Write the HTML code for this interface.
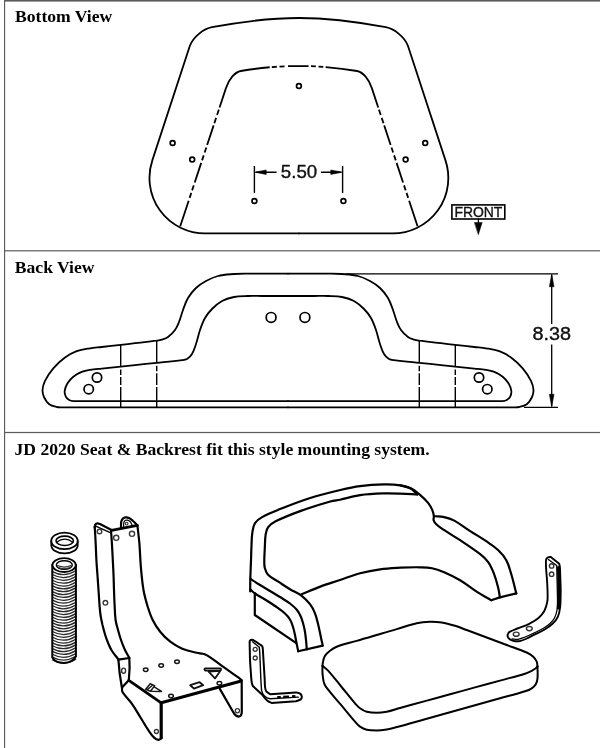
<!DOCTYPE html>
<html><head><meta charset="utf-8"><title>Seat diagram</title>
<style>
html,body{margin:0;padding:0;background:#fff;}
body{width:600px;height:748px;overflow:hidden;position:relative;font-family:"Liberation Serif",serif;}
svg{position:absolute;left:0;top:0;display:block;will-change:transform;}
.lbl{font-family:"Liberation Serif",serif;font-weight:bold;font-size:17.6px;fill:#000;stroke:none;}
.dim{font-family:"Liberation Sans",sans-serif;font-size:18px;fill:#111;stroke:#111;stroke-width:0.35;}
</style></head><body>
<svg width="600" height="748" viewBox="0 0 600 748" fill="none" stroke="#000" stroke-linecap="round" stroke-linejoin="round">
<g fill="#5c5c5c" stroke="none">
<rect x="4" y="0" width="1.15" height="748"/>
<rect x="4" y="0" width="596" height="1.6"/>
<rect x="4" y="250.2" width="596" height="1.2"/>
<rect x="4" y="431.9" width="596" height="1.2"/>
</g>
<text class="lbl" x="15" y="22.3">Bottom View</text>
<text class="lbl" x="14.8" y="272.5">Back View</text>
<text class="lbl" x="14.5" y="454.7">JD 2020 Seat &amp; Backrest fit this style mounting system.</text>
<path d="M298.9 18 Q261.0 18 212.0 27.2 C203.5 28.8 193.0 37.2 189.8 46 L152.4 160.1 A55.5 55.5 0 0 0 205.0 233.4 L298.9 233.4" stroke-width="1.8" />
<path d="M226.04 87.90L219.56 107.50M218.86 109.60L217.07 115.00M216.11 117.90L214.33 123.30M213.63 125.40L207.14 145.00M206.32 147.50L204.66 152.50M203.70 155.40L202.05 160.40M201.22 162.90L194.73 182.50M193.77 185.40L192.12 190.40M191.29 192.90L189.63 197.90M188.68 200.80L180.23 226.30" stroke-width="1.8" stroke-linecap="butt"/>
<path d="M226.01 88 C229.06 78.8 235.00 72.0 240.80 71.0 Q255.00 68.57 269.70 67.27" stroke-width="1.8" stroke-linecap="butt"/>
<circle cx="172.6" cy="143.0" r="2.4" stroke-width="1.7" />
<circle cx="192.2" cy="159.5" r="2.4" stroke-width="1.7" />
<circle cx="254.4" cy="201.0" r="2.4" stroke-width="1.7" />
<path d="M298.9 18 Q336.8 18 385.8 27.2 C394.3 28.8 404.8 37.2 408.0 46 L445.4 160.1 A55.5 55.5 0 0 1 392.8 233.4 L298.9 233.4" stroke-width="1.8" />
<path d="M371.76 87.90L378.24 107.50M378.94 109.60L380.73 115.00M381.69 117.90L383.47 123.30M384.17 125.40L390.66 145.00M391.48 147.50L393.14 152.50M394.10 155.40L395.75 160.40M396.58 162.90L403.07 182.50M404.03 185.40L405.68 190.40M406.51 192.90L408.17 197.90M409.12 200.80L417.57 226.30" stroke-width="1.8" stroke-linecap="butt"/>
<path d="M371.79 88 C368.74 78.8 362.80 72.0 357.00 71.0 Q342.80 68.57 325.60 67.06" stroke-width="1.8" stroke-linecap="butt"/>
<circle cx="425.2" cy="143.0" r="2.4" stroke-width="1.7" />
<circle cx="405.6" cy="159.5" r="2.4" stroke-width="1.7" />
<circle cx="343.4" cy="201.0" r="2.4" stroke-width="1.7" />
<path d="M271.80 67.09Q274.30 66.80 276.80 66.73M279.50 66.56Q282.00 66.33 284.50 66.31M288.00 66.18Q298.30 65.90 308.60 66.14M311.00 66.22Q313.40 66.21 315.80 66.43M318.50 66.57Q320.90 66.62 323.30 66.89" stroke-width="1.8" stroke-linecap="butt"/>
<circle cx="298.9" cy="86.0" r="2.4" stroke-width="1.7" />
<g stroke-width="1.4" stroke-linecap="butt">
<path d="M254.4 166V193M342.6 166V193M256 172.2H276.6M321 172.2H341"/>
<path d="M254.8 172.2L266.2 170V174.4ZM342.2 172.2L330.8 170V174.4Z" fill="#000" stroke-width="0.6"/>
</g>
<text class="dim" x="280.8" y="178.2" textLength="36.4" lengthAdjust="spacingAndGlyphs">5.50</text>
<rect x="451.9" y="204.9" width="52.9" height="14.1" stroke-width="1.6" stroke-linejoin="miter"/>
<text class="dim" x="454.4" y="216.9" style="font-size:14.6px" textLength="48" lengthAdjust="spacingAndGlyphs">FRONT</text>
<path d="M478.4 219V225" stroke-width="1.3"/>
<path d="M474.6 222.5H482.2L478.4 234.4Z" fill="#000" stroke-width="0.5"/>
<path d="M288.0 273.7C277.9 273.7 270.1 273.7 260.0 273.7C254.6 273.7 250.4 273.6 245.0 273.7C241.0 273.7 237.9 273.7 234.0 274.0C228.2 274.5 223.6 274.6 218.0 276.0C213.5 277.1 210.1 278.8 206.0 281.0C202.1 283.1 199.2 285.0 196.0 288.0C192.6 291.2 190.3 294.0 188.0 298.0C185.6 302.0 184.6 305.6 183.0 310.0C181.4 314.3 180.7 317.8 179.0 322.0C177.8 325.0 176.9 327.4 175.0 330.0C172.9 332.9 170.9 334.9 168.0 337.0C166.1 338.4 164.2 338.9 162.0 339.6C160.1 340.2 158.6 340.4 156.7 340.7C148.9 341.7 142.8 342.3 135.0 343.2C129.9 343.8 125.9 344.3 120.8 344.9C113.9 345.7 108.6 346.2 101.7 347.0C97.5 347.5 94.2 347.6 90.0 348.3C85.2 349.1 81.3 349.5 76.7 351.2C72.2 352.9 68.9 354.7 65.0 357.5C60.4 360.9 57.0 364.0 53.3 368.3C49.8 372.4 47.4 376.0 45.0 380.8C43.5 383.9 42.7 386.6 42.5 390.0C42.4 392.8 43.0 395.0 44.2 397.5C45.5 400.2 46.8 402.4 49.2 404.2C51.5 405.9 53.9 406.3 56.7 407.0C58.5 407.4 59.9 407.3 61.7 407.3C66.5 407.4 70.2 407.3 75.0 407.3C151.7 407.3 211.3 407.3 288.0 407.3" stroke-width="1.8" />
<path d="M288.0 296.0C278.6 296.0 271.4 296.0 262.0 296.0C257.0 296.0 253.0 295.8 248.0 296.0C243.0 296.2 239.0 296.0 234.0 297.0C229.5 297.9 226.0 298.8 222.0 301.0C218.0 303.2 215.3 305.7 212.0 309.0C209.1 311.9 207.0 314.4 205.0 318.0C202.7 322.1 201.5 325.6 200.0 330.0C198.3 335.0 197.7 339.0 196.0 344.0C194.8 347.7 194.0 350.7 192.0 354.0C190.7 356.2 189.2 357.7 187.0 359.0C185.4 360.0 183.8 360.0 182.0 360.2C172.9 361.3 165.8 361.9 156.7 362.8C148.9 363.6 142.8 364.3 135.0 365.1C129.9 365.6 125.9 366.1 120.8 366.6C113.9 367.3 108.6 367.9 101.7 368.6C97.5 369.0 94.2 369.1 90.0 369.8C87.0 370.3 84.5 370.7 81.7 371.9C78.5 373.2 76.0 374.5 73.3 376.7C70.8 378.7 69.1 380.6 67.5 383.3C66.0 385.8 65.1 387.9 64.7 390.8C64.4 392.9 64.9 394.8 65.8 396.7C66.5 398.2 67.7 399.1 69.2 400.0C70.5 400.8 71.8 401.0 73.3 401.1C77.5 401.4 80.8 401.1 85.0 401.1C158.1 401.1 214.9 401.1 288.0 401.1" stroke-width="1.8" />
<path d="M120.7 344.9V366.6M120.7 369.6V375.1M120.7 377.1V385.0M120.7 387.0V407.3" stroke-width="1.4" stroke-linecap="butt"/>
<path d="M156.7 340.7V362.8M156.7 365.8V371.3M156.7 373.3V385.0M156.7 387.0V407.3" stroke-width="1.4" stroke-linecap="butt"/>
<circle cx="97.0" cy="377.5" r="4.7" stroke-width="1.7" />
<circle cx="88.7" cy="389.2" r="4.7" stroke-width="1.7" />
<circle cx="271.1" cy="317.4" r="4.9" stroke-width="1.7" />
<path d="M288.0 273.7C298.1 273.7 305.9 273.7 316.0 273.7C321.4 273.7 325.6 273.6 331.0 273.7C335.0 273.7 338.1 273.7 342.0 274.0C347.8 274.5 352.4 274.6 358.0 276.0C362.5 277.1 365.9 278.8 370.0 281.0C373.9 283.1 376.8 285.0 380.0 288.0C383.4 291.2 385.7 294.0 388.0 298.0C390.4 302.0 391.4 305.6 393.0 310.0C394.6 314.3 395.3 317.8 397.0 322.0C398.2 325.0 399.1 327.4 401.0 330.0C403.1 332.9 405.1 334.9 408.0 337.0C409.9 338.4 411.8 338.9 414.0 339.6C415.9 340.2 417.4 340.4 419.3 340.7C427.1 341.7 433.2 342.3 441.0 343.2C446.1 343.8 450.1 344.3 455.2 344.9C462.1 345.7 467.4 346.2 474.3 347.0C478.5 347.5 481.8 347.6 486.0 348.3C490.8 349.1 494.7 349.5 499.3 351.2C503.8 352.9 507.1 354.7 511.0 357.5C515.6 360.9 519.0 364.0 522.7 368.3C526.2 372.4 528.6 376.0 531.0 380.8C532.5 383.9 533.3 386.6 533.5 390.0C533.6 392.8 533.0 395.0 531.8 397.5C530.5 400.2 529.2 402.4 526.8 404.2C524.5 405.9 522.1 406.3 519.3 407.0C517.5 407.4 516.1 407.3 514.3 407.3C509.5 407.4 505.8 407.3 501.0 407.3C424.3 407.3 364.7 407.3 288.0 407.3" stroke-width="1.8" />
<path d="M288.0 296.0C297.4 296.0 304.6 296.0 314.0 296.0C319.0 296.0 323.0 295.8 328.0 296.0C333.0 296.2 337.0 296.0 342.0 297.0C346.5 297.9 350.0 298.8 354.0 301.0C358.0 303.2 360.7 305.7 364.0 309.0C366.9 311.9 369.0 314.4 371.0 318.0C373.3 322.1 374.5 325.6 376.0 330.0C377.7 335.0 378.3 339.0 380.0 344.0C381.2 347.7 382.0 350.7 384.0 354.0C385.3 356.2 386.8 357.7 389.0 359.0C390.6 360.0 392.2 360.0 394.0 360.2C403.1 361.3 410.2 361.9 419.3 362.8C427.1 363.6 433.2 364.3 441.0 365.1C446.1 365.6 450.1 366.1 455.2 366.6C462.1 367.3 467.4 367.9 474.3 368.6C478.5 369.0 481.8 369.1 486.0 369.8C489.0 370.3 491.5 370.7 494.3 371.9C497.5 373.2 500.0 374.5 502.7 376.7C505.2 378.7 506.9 380.6 508.5 383.3C510.0 385.8 510.9 387.9 511.3 390.8C511.6 392.9 511.1 394.8 510.2 396.7C509.5 398.2 508.3 399.1 506.8 400.0C505.5 400.8 504.2 401.0 502.7 401.1C498.5 401.4 495.2 401.1 491.0 401.1C417.9 401.1 361.1 401.1 288.0 401.1" stroke-width="1.8" />
<path d="M455.3 344.9V366.6M455.3 369.6V375.1M455.3 377.1V385.0M455.3 387.0V407.3" stroke-width="1.4" stroke-linecap="butt"/>
<path d="M419.3 340.7V362.8M419.3 365.8V371.3M419.3 373.3V385.0M419.3 387.0V407.3" stroke-width="1.4" stroke-linecap="butt"/>
<circle cx="479.0" cy="377.5" r="4.7" stroke-width="1.7" />
<circle cx="487.3" cy="389.2" r="4.7" stroke-width="1.7" />
<circle cx="304.9" cy="317.4" r="4.9" stroke-width="1.7" />
<g stroke-width="1.3" stroke-linecap="butt">
<path d="M346 273.8H558M524 407.3H558M551.7 275V324M551.7 344.5V406"/>
<path d="M551.7 274.2L549.4 286.7H554ZM551.7 406.8L549.4 394.3H554Z" fill="#000" stroke-width="0.6"/>
</g>
<text class="dim" x="532.4" y="340.4" textLength="38.6" lengthAdjust="spacingAndGlyphs">8.38</text>
<path d="M51.3 541.2V545.2A13.2 8.2 0 0 0 77.7 545.2V541.2" stroke-width="1.8" />
<ellipse cx="64.5" cy="540.9" rx="13.2" ry="8.2" stroke-width="1.8" fill="#fff"/>
<ellipse cx="64.7" cy="540.8" rx="8.7" ry="4.7" stroke-width="1.6" />
<path d="M56.4 542.4Q64.7 536.0 73.0 542.4" stroke-width="1.2" />
<g stroke-width="1.25" stroke="#2a2a2a">
<path d="M52.4 571.6Q64 578.0 75.8 570.8"/>
<path d="M52.4 574.5Q64 580.9 75.8 573.7"/>
<path d="M52.4 577.3Q64 583.7 75.8 576.5"/>
<path d="M52.4 580.2Q64 586.6 75.8 579.4"/>
<path d="M52.4 583.0Q64 589.4 75.8 582.2"/>
<path d="M52.4 585.9Q64 592.3 75.8 585.1"/>
<path d="M52.4 588.7Q64 595.1 75.8 587.9"/>
<path d="M52.4 591.6Q64 598.0 75.8 590.8"/>
<path d="M52.4 594.4Q64 600.8 75.8 593.6"/>
<path d="M52.4 597.3Q64 603.7 75.8 596.5"/>
<path d="M52.4 600.1Q64 606.5 75.8 599.3"/>
<path d="M52.4 603.0Q64 609.4 75.8 602.2"/>
<path d="M52.4 605.8Q64 612.2 75.8 605.0"/>
<path d="M52.4 608.7Q64 615.1 75.8 607.9"/>
<path d="M52.4 611.5Q64 617.9 75.8 610.7"/>
<path d="M52.4 614.4Q64 620.8 75.8 613.6"/>
<path d="M52.4 617.2Q64 623.6 75.8 616.4"/>
<path d="M52.4 620.1Q64 626.5 75.8 619.3"/>
<path d="M52.4 622.9Q64 629.3 75.8 622.1"/>
<path d="M52.4 625.8Q64 632.2 75.8 625.0"/>
<path d="M52.4 628.6Q64 635.0 75.8 627.8"/>
<path d="M52.4 631.5Q64 637.9 75.8 630.7"/>
<path d="M52.4 634.3Q64 640.7 75.8 633.5"/>
<path d="M52.4 637.2Q64 643.6 75.8 636.4"/>
<path d="M52.4 640.0Q64 646.4 75.8 639.2"/>
<path d="M52.4 642.9Q64 649.3 75.8 642.1"/>
<path d="M52.4 645.7Q64 652.1 75.8 644.9"/>
<path d="M52.4 648.6Q64 655.0 75.8 647.8"/>
<path d="M52.4 651.4Q64 657.8 75.8 650.6"/>
<path d="M52.4 654.3Q64 660.7 75.8 653.5"/>
<path d="M52.4 657.1Q64 663.5 75.8 656.3"/>
<path d="M52.4 660.0Q64 666.4 75.8 659.2"/>
</g>
<path d="M52.3 565V657.5Q55.5 663 64 662.9Q72.5 662.6 75.9 656.5V564.8" stroke-width="2.0" />
<ellipse cx="64.1" cy="565.1" rx="11.7" ry="6.9" stroke-width="1.8" fill="#fff"/>
<ellipse cx="64.3" cy="565.0" rx="8.0" ry="4.3" stroke-width="1.4" />
<path d="M57.6 565.6Q64.3 568.6 71.0 565.6M58.6 567.4Q64.3 570.2 70 567.4" stroke-width="1.1" stroke="#333"/>
<path d="M94.7 527.0C95.0 531.7 95.3 535.3 95.5 540.0C95.9 547.2 96.0 552.8 96.4 560.0C96.7 566.1 97.2 570.9 97.6 577.0C97.9 581.7 98.2 585.3 98.5 590.0C98.9 595.4 99.1 599.6 99.5 605.0C99.8 608.6 100.0 611.4 100.5 615.0C101.0 618.6 101.7 621.4 102.5 625.0C103.4 628.6 104.1 631.4 105.2 635.0C106.2 638.3 107.2 640.8 108.5 644.0C109.6 646.6 110.5 648.6 112.0 651.0C114.1 654.2 116.1 656.4 118.4 659.5" stroke-width="2.2" />
<path d="M94.7 527.5C94.9 526.5 94.7 525.5 95.3 524.6C95.8 523.9 96.6 523.5 97.5 523.4C98.4 523.3 99.1 523.8 100.0 524.0L111.5 530" stroke-width="2.2" />
<path d="M96.3 526.3L110.3 532.6" stroke-width="1.3" />
<path d="M111.0 530.5C111.4 535.7 111.7 539.8 112.0 545.0C112.3 550.4 112.5 554.6 112.8 560.0C113.1 566.1 113.4 570.9 113.6 577.0C113.8 581.7 113.8 585.3 114.0 590.0C114.2 595.4 114.3 599.6 114.6 605.0C114.9 610.4 114.9 614.6 115.6 620.0C116.1 623.7 117.0 626.4 118.0 630.0C119.0 633.6 119.8 636.5 121.0 640.0C122.3 643.7 123.4 646.5 125.0 650.0C126.4 652.9 127.8 655.0 129.3 657.8" stroke-width="2.2" />
<path d="M111.5 530.4L137.3 525.4" stroke-width="2.8" />
<path d="M121.0 527.5C121.1 525.3 120.8 523.6 121.3 521.5C121.6 520.3 122.1 519.4 123.0 518.5C123.7 517.8 124.5 517.5 125.5 517.4C126.8 517.3 127.8 517.4 129.0 518.0C130.6 518.8 131.6 519.8 133.0 521.0C134.6 522.4 135.8 523.7 137.3 525.2" stroke-width="2.2" />
<path d="M123.6 526.5C123.7 525.0 123.5 523.7 123.9 522.3C124.2 521.4 124.7 520.8 125.5 520.3C126.1 519.9 126.8 520.0 127.5 520.2C128.5 520.5 129.3 520.8 130.0 521.5C131.0 522.5 131.3 523.6 132.0 524.8" stroke-width="1.2" />
<circle cx="126.6" cy="523.6" r="1.4" stroke-width="1.1" stroke="#333"/>
<g stroke="#3a3a3a">
<circle cx="99.5" cy="531.5" r="2.3" stroke-width="1.4" />
<circle cx="116.2" cy="537.8" r="2.6" stroke-width="1.4" />
<circle cx="132.0" cy="533.8" r="2.6" stroke-width="1.4" />
<circle cx="105.4" cy="602.8" r="2.3" stroke-width="1.4" />
</g>
<path d="M137.3 525.2C137.7 528.0 138.0 530.2 138.3 533.0C138.7 536.7 139.1 539.6 139.4 543.4C140.1 552.4 140.2 559.5 141.0 568.5C141.7 576.3 142.2 582.3 143.5 590.0C144.5 595.9 145.8 600.3 147.5 606.0C149.1 611.1 150.3 615.2 152.7 620.0C154.9 624.5 157.0 627.8 160.2 631.7C163.4 635.7 166.3 638.6 170.3 641.7C174.1 644.6 177.3 646.6 181.7 648.4C186.9 650.6 191.3 651.4 196.8 652.8C199.0 653.4 200.8 653.2 203.0 653.8C204.7 654.2 206.0 654.7 207.5 655.6C211.0 657.7 213.5 659.8 216.9 662.2C220.5 664.8 223.3 666.8 226.9 669.4C231.1 672.4 234.4 674.7 238.6 677.7C239.7 678.5 240.5 679.2 241.6 680.0" stroke-width="2.2" />
<path d="M118.4 659.6L129.3 658" stroke-width="2.2" />
<path d="M118.4 659.6L119.6 673L121.8 687M129.3 658L129.6 668L128.8 680.3" stroke-width="2.2" />
<path d="M128.8 680.3L122 687.4" stroke-width="2.2" />
<ellipse cx="123.6" cy="670.7" rx="2.0" ry="2.6" stroke-width="1.4" stroke="#333"/>
<path d="M122.0 687.4C122.2 689.1 121.6 690.6 122.5 692.0C125.3 696.6 128.7 699.2 131.8 703.6C135.1 708.2 137.2 712.2 140.2 717.0C143.2 721.8 145.3 725.7 148.5 730.4C150.4 733.2 151.9 735.6 154.4 737.9C155.6 739.0 156.9 739.7 158.6 739.8C159.8 739.9 160.5 738.8 161.6 738.2" stroke-width="2.2" />
<path d="M161.2 703V737.5" stroke-width="3.2" />
<circle cx="156.4" cy="731.5" r="2.0" stroke-width="1.3" stroke="#333"/>
<path d="M128.8 680.3L161.2 702.8" stroke-width="2.8" />
<path d="M161.2 702.8L241.2 681" stroke-width="3.0" />
<path d="M241.7 681L241.8 711.5Q241.8 716.6 238.4 716.6Q235.4 716.4 233.3 712.3L219.7 688.6" stroke-width="2.2" />
<circle cx="237.4" cy="710.8" r="2.1" stroke-width="1.3" stroke="#333"/>
<g stroke="#151515" stroke-width="1.5">
<ellipse cx="145.7" cy="669.8" rx="2.3" ry="1.7"/>
<ellipse cx="161.2" cy="665.5" rx="2.3" ry="1.7"/>
<ellipse cx="177.0" cy="661.8" rx="2.3" ry="1.7"/>
<ellipse cx="171.0" cy="696.0" rx="2.3" ry="1.7"/>
<ellipse cx="219.4" cy="683.2" rx="2.3" ry="1.7"/>
</g>
<path d="M145.5 689.4L150.2 683.8L154.7 685.6L150.5 691.2ZM154.2 686.8L161.5 691.4L151.7 691.2M147.8 689.2L152.4 685.2" stroke-width="1.5" stroke="#181818"/>
<path d="M190.3 685.2L199.6 682.2L203.2 685.2L194 688.6Z" stroke-width="1.9" stroke="#111"/>
<path d="M205 668.3L220.6 668.4Q221.6 669.6 220.4 670.6L205.6 670.7Q203.6 669.6 205 668.3ZM208.6 671.7L220.4 670.8L215 678.4Z" stroke-width="1.8" stroke="#111"/>
<path d="M249.6 642.3C249.7 645.1 249.7 647.2 249.8 650.0C249.9 653.3 249.8 655.9 250.0 659.2C250.2 663.8 250.5 667.4 250.8 672.0C251.1 675.8 251.2 678.7 251.7 682.5C251.9 683.8 252.4 684.7 252.8 686.0L262.8 695.3C263.8 696.6 264.4 697.6 265.5 698.8C266.3 699.7 267.0 700.5 268.0 701.2C269.2 702.0 270.2 702.3 271.5 702.9L296 701.2C297.7 700.6 299.3 700.5 300.7 699.4C301.6 698.7 301.9 697.6 301.8 696.5C301.7 695.3 301.1 694.3 300.1 693.6C298.8 692.7 297.5 692.8 296.0 692.4L270.3 694.2C268.9 693.2 267.4 692.7 266.3 691.3C265.4 690.1 265.3 688.7 265.1 687.2C264.7 683.9 264.8 681.3 264.6 678.0L262.8 648.7C262.6 647.9 262.7 647.3 262.3 646.6C262.0 646.0 261.6 645.6 261.0 645.2C258.1 643.2 255.9 641.5 252.8 639.9C252.2 639.6 251.5 639.8 250.9 640.0C250.4 640.2 250.1 640.5 249.8 641.0C249.6 641.4 249.7 641.8 249.6 642.3" stroke-width="2.0" />
<path d="M252.6 641.8L259.3 647.2L259.8 653.3L261 682.5L261.6 690.7Q262.5 694.5 265.1 696.5Q267.5 698.6 270.3 698.8L298.3 697.1" stroke-width="1.4" />
<circle cx="255.2" cy="649.3" r="2.0" stroke-width="1.3" stroke="#333"/>
<circle cx="255.2" cy="658.0" r="2.0" stroke-width="1.3" stroke="#333"/>
<path d="M277.3 697.2L280.8 697M283.2 696.8L289 696.5M292 696.3L295.4 696.1" stroke-width="2.2" stroke-linecap="butt"/>
<path d="M417.3 494.5C414.7 492.3 413.2 489.9 410.2 488.3C406.9 486.5 403.9 485.9 400.2 485.3C394.5 484.4 389.9 484.3 384.1 484.4C375.4 484.6 368.7 485.0 360.1 486.1C352.9 487.0 347.4 488.3 340.3 490.0C329.4 492.6 320.9 494.6 310.2 498.0C299.2 501.5 290.8 504.8 280.1 509.1C273.5 511.7 268.3 513.6 262.1 517.1C259.2 518.7 256.8 520.3 255.0 523.1C253.2 526.0 252.9 528.8 252.4 532.2C251.6 537.1 251.7 541.0 251.5 546.0C251.2 551.1 251.2 555.2 251.0 560.3C250.8 566.9 250.5 571.9 250.3 578.5C250.2 583.1 250.2 586.8 250.2 591.4" stroke-width="2.2" />
<path d="M400.2 485.3C403.8 486.3 406.8 486.5 410.2 488.1C414.2 490.0 416.9 492.3 420.3 495.1C423.4 497.7 425.8 499.9 428.3 503.1C430.1 505.4 431.2 507.4 432.3 510.1C433.2 512.2 433.6 513.9 433.9 516.2C434.1 517.6 433.2 518.8 433.6 520.2C434.1 521.9 435.0 523.0 436.3 524.2C438.9 526.7 441.3 528.2 444.3 530.2C449.9 534.0 454.5 536.5 460.1 540.2C467.4 545.1 473.3 548.8 480.2 554.2C483.4 556.7 485.9 558.9 488.2 562.2C491.0 566.2 492.4 569.8 494.2 574.3C496.1 579.2 497.0 583.2 498.3 588.3C499.1 591.5 499.3 594.1 499.9 597.4" stroke-width="2.2" />
<path d="M417.3 494.4C411.1 494.1 406.4 493.8 400.2 493.6C394.4 493.4 389.9 493.2 384.1 493.4C375.4 493.7 368.7 493.9 360.1 495.1C352.8 496.1 347.3 498.1 340.0 499.7C336.5 500.4 333.7 500.5 330.3 501.5C319.4 504.6 310.9 507.2 300.2 511.1C291.4 514.3 284.5 516.9 276.1 521.1C272.9 522.7 270.4 524.4 268.1 527.2C266.4 529.3 266.1 531.6 265.7 534.2C264.9 539.1 265.1 543.0 264.8 548.0C264.6 552.4 264.3 555.9 264.3 560.3C264.3 563.1 264.1 565.3 264.8 568.0C265.5 570.7 266.3 573.0 268.3 575.0C271.3 578.1 274.7 579.3 278.3 581.7C282.5 584.4 285.7 586.6 290.0 589.2C294.1 591.7 297.8 592.9 301.7 595.8C305.1 598.4 307.4 600.8 310.0 604.2C312.3 607.2 313.6 609.8 315.0 613.3C316.6 617.4 317.2 620.8 318.3 625.0C319.3 629.2 319.9 632.5 320.8 636.7C321.5 639.9 322.0 642.4 322.7 645.6" stroke-width="2.2" />
<path d="M250.6 579.0C254.0 581.2 256.6 582.9 260.0 585.0C263.6 587.2 266.4 588.8 270.0 591.0C273.6 593.2 276.4 594.8 280.0 597.0C283.6 599.3 286.6 600.9 290.0 603.5C292.7 605.6 294.8 607.3 297.0 610.0C298.8 612.3 299.8 614.3 301.0 617.0C302.2 619.8 302.7 622.1 303.5 625.0C304.2 627.5 304.6 629.5 305.0 632.0C305.5 634.9 305.7 637.1 306.0 640.0C306.4 643.4 306.5 646.1 306.8 649.5" stroke-width="2.2" />
<path d="M250.5 589.6C252.1 591.0 253.2 592.3 255.0 593.5C258.5 595.9 261.4 597.3 265.0 599.5C268.6 601.8 271.5 603.5 275.0 606.0C278.7 608.6 281.7 610.5 285.0 613.5C287.1 615.4 288.6 617.1 290.0 619.5C291.5 622.0 292.1 624.2 293.0 627.0C293.9 629.8 294.4 632.1 295.0 635.0C295.6 637.9 295.9 640.1 296.5 643.0C297.1 646.0 297.6 648.2 298.2 651.2" stroke-width="2.2" />
<path d="M322.7 645.6L298.2 651.3" stroke-width="2.2" />
<path d="M254.8 593V615L296.3 643.2" stroke-width="2.2" />
<path d="M301.2 594.6C308.1 591.7 313.3 589.2 320.3 586.6C327.3 584.0 332.9 582.4 340.0 580.0C347.2 577.6 352.7 575.3 360.1 573.3C367.2 571.4 372.8 570.3 380.1 569.3C387.3 568.3 393.0 568.1 400.2 567.7C407.4 567.3 413.1 567.2 420.3 567.3C424.5 567.4 427.9 567.4 432.0 568.3C436.5 569.2 439.9 570.5 444.1 572.3C450.0 574.8 454.6 577.0 460.1 580.3C466.2 583.9 470.3 587.6 476.2 591.4C481.5 594.8 485.8 597.0 491.2 600.2" stroke-width="2.2" />
<path d="M433.9 516.0C437.6 516.4 440.6 516.3 444.2 517.1C448.0 517.9 450.9 518.8 454.3 520.6C460.3 523.9 464.4 527.4 470.2 531.1C475.9 534.8 480.6 537.4 486.2 541.2C490.7 544.3 494.4 546.5 498.3 550.2C501.7 553.4 504.1 556.1 506.3 560.2C508.9 564.9 509.7 569.1 511.3 574.3C513.3 581.1 514.5 586.5 516.3 593.4" stroke-width="2.2" />
<path d="M516.3 593.4L499.9 597.4L491.2 600.2" stroke-width="2.2" />
<path d="M322.5 665.8C322.7 664.3 322.6 663.1 323.0 661.7C323.5 659.5 323.8 657.7 325.0 655.8C326.4 653.7 328.0 652.4 330.0 650.8C332.2 649.1 334.1 647.7 336.7 646.7C343.7 644.1 349.5 643.0 356.7 640.9C363.9 638.7 369.5 637.1 376.7 635.0C383.9 632.9 389.5 631.3 396.7 629.1C403.9 627.0 409.4 624.9 416.7 623.3C421.4 622.2 425.2 621.9 430.0 621.7C434.2 621.6 437.5 621.8 441.7 622.5C446.6 623.3 450.3 624.4 455.0 625.8C459.3 627.1 462.5 628.5 466.7 630.0C473.9 632.7 479.5 634.8 486.7 637.5C493.9 640.2 499.5 642.3 506.7 645.0C513.9 647.7 519.7 649.4 526.7 652.5C529.3 653.6 531.2 654.8 533.3 656.7C534.9 658.2 535.8 659.7 536.7 661.7C537.4 663.3 537.2 664.8 537.5 666.5" stroke-width="2.0" />
<path d="M322.5 665.8C324.6 667.6 326.5 668.8 328.3 670.8C333.4 676.4 336.8 681.2 341.6 687.0C346.5 692.9 350.1 697.6 355.0 703.3C356.7 705.2 357.9 706.8 360.0 708.3C362.2 709.9 364.1 711.0 366.7 711.7C370.2 712.6 373.1 712.8 376.7 712.8C380.3 712.8 383.2 712.4 386.7 711.7C391.6 710.7 395.2 709.3 400.0 708.0C409.0 705.5 416.0 703.6 425.0 701.1C434.0 698.7 441.0 696.7 450.0 694.3C459.0 691.8 466.0 689.9 475.0 687.4C484.0 685.0 491.0 683.0 500.0 680.6C509.0 678.1 516.1 676.4 525.0 673.7C527.5 672.9 529.3 672.0 531.7 670.8C533.2 670.0 534.4 669.3 535.8 668.3C536.5 667.8 536.9 667.1 537.5 666.5" stroke-width="2.0" />
<path d="M322.5 665.8C322.5 668.5 322.3 670.6 322.5 673.3C322.7 676.3 323.0 678.7 323.7 681.7C324.2 683.6 324.6 685.1 325.8 686.7C330.7 693.3 335.1 697.9 340.4 704.2C345.7 710.5 349.6 715.5 355.0 721.7C356.7 723.6 357.9 725.3 360.0 726.7C362.2 728.2 364.1 729.1 366.7 729.7C370.2 730.5 373.1 730.5 376.7 730.5C380.3 730.5 383.1 730.1 386.7 729.5C391.5 728.6 395.2 727.6 400.0 726.3C409.0 723.9 416.0 721.8 425.0 719.3C434.0 716.8 441.0 714.8 450.0 712.3C459.0 709.8 466.0 707.8 475.0 705.3C484.0 702.8 491.0 700.8 500.0 698.3C509.0 695.8 516.1 694.1 525.0 691.3C527.5 690.5 529.5 689.8 531.7 688.3C533.4 687.2 534.8 686.0 535.8 684.2C536.9 682.3 537.3 680.5 537.5 678.3C537.9 674.1 537.5 670.7 537.5 666.5" stroke-width="2.0" />
<path d="M547.6 592.0C547.4 587.7 547.3 584.3 547.0 580.0C546.8 576.4 546.4 573.6 546.2 570.0C546.0 567.1 545.9 564.9 545.9 562.0C545.9 560.9 545.9 560.0 546.3 559.0C546.7 558.2 547.2 557.7 548.0 557.3C548.9 556.9 549.8 557.1 550.8 557.0L559.2 563.8C559.5 565.0 559.8 565.8 559.9 567.0C560.2 571.7 560.2 575.3 560.4 580.0C560.5 583.6 560.7 586.4 560.7 590.0C560.6 596.3 560.8 601.2 560.1 607.5C559.7 610.9 559.3 613.7 557.8 616.8C556.5 619.7 554.8 621.6 552.5 623.8C549.9 626.3 547.4 627.8 544.3 629.7C540.7 631.9 537.6 633.0 533.8 634.9C530.9 636.4 528.7 637.7 525.7 639.0C523.6 639.9 522.0 640.5 519.8 641.0C518.2 641.3 516.8 641.4 515.2 641.2C513.4 641.0 512.0 640.7 510.5 639.8C509.2 639.0 508.2 638.0 507.7 636.6C507.3 635.5 507.6 634.4 508.2 633.4C508.7 632.4 509.5 631.9 510.5 631.4C512.9 630.1 515.0 629.5 517.5 628.5C521.7 626.8 525.1 625.8 529.2 623.8C532.7 622.0 535.5 620.6 538.5 618.0C541.0 615.9 542.7 613.9 544.3 611.0C546.0 607.9 546.7 605.2 547.3 601.7C547.9 598.3 547.5 595.5 547.6 592.0" stroke-width="1.9" />
<path d="M548.4 559.4L556.7 565.6C556.9 572.6 557.0 578.1 557.2 585.1C557.3 590.5 557.5 594.6 557.5 600.0C557.5 603.6 557.6 606.4 557.0 610.0C556.5 613.0 555.9 615.3 554.5 618.0C553.3 620.3 551.9 621.8 550.0 623.5C547.9 625.5 546.0 626.8 543.5 628.3C540.0 630.4 537.0 631.6 533.3 633.3C530.0 634.9 527.4 636.2 524.0 637.5C521.9 638.3 520.2 639.0 518.0 639.3C515.9 639.6 514.2 639.1 512.0 639.0" stroke-width="1.3" />
<path d="M558.5 567.5L558.9 590L558.4 608" stroke-width="3.0" />
<g stroke="#333">
<circle cx="551.6" cy="565.9" r="2.2" stroke-width="1.4" />
<circle cx="551.6" cy="574.2" r="2.2" stroke-width="1.4" />
<ellipse cx="529.3" cy="628.6" rx="2.9" ry="2.1" stroke-width="1.4" />
<ellipse cx="516.2" cy="634.2" rx="2.9" ry="2.1" stroke-width="1.4" />
</g>
</svg>
</body></html>
